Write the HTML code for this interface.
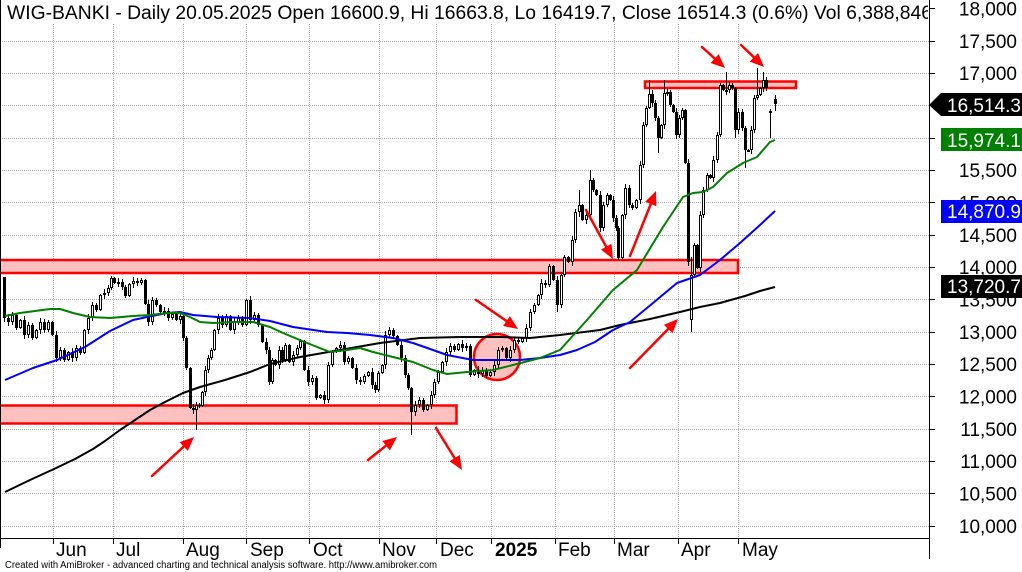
<!DOCTYPE html>
<html><head><meta charset="utf-8"><style>
html,body{margin:0;padding:0;background:#fff;width:1022px;height:572px;overflow:hidden}
svg{display:block}
text{font-family:"Liberation Sans",Arial,sans-serif;fill:#000}
</style></head><body>
<svg id="c" xmlns="http://www.w3.org/2000/svg" width="1022" height="572" viewBox="0 0 1022 572">
<defs><clipPath id="tc"><rect x="0" y="0" width="928" height="30"/></clipPath>
<clipPath id="pc"><rect x="0" y="0" width="929" height="538"/></clipPath></defs>
<rect width="1022" height="572" fill="#fff"/>
<g stroke="#a8a8a8" stroke-width="1" stroke-dasharray="1 1" shape-rendering="crispEdges">
<path d="M0 41.5H929M0 73.5H929M0 105.5H929M0 138.5H929M0 170.5H929M0 202.5H929M0 235.5H929M0 267.5H929M0 299.5H929M0 332.5H929M0 364.5H929M0 396.5H929M0 429.5H929M0 461.5H929M0 493.5H929M0 526.5H929"/>
<path d="M53.5 24V538M113.5 24V538M183.5 24V538M246.5 24V538M309.5 24V538M379.5 24V538M436.5 24V538M491.5 24V538M555.5 24V538M614.5 24V538M678.5 24V538M738.5 24V538"/>
</g>
<g clip-path="url(#pc)" fill="#ffc0c0" stroke="#ff0000" stroke-width="2.5">
<rect x="645" y="81.5" width="151" height="6.5"/>
<rect x="-5" y="260" width="743" height="13"/>
<rect x="-5" y="405.5" width="461.5" height="18"/>
<circle cx="497" cy="357" r="23"/>
</g>
<g id="cd" clip-path="url(#pc)"></g>
<g fill="none" stroke-width="2" stroke-linejoin="round" clip-path="url(#pc)">
<polyline stroke="#000" points="5,492 30,480 54,469 75,459 93,449 105,441 120,430 135,420 150,410 165,402 183,393 200,387 225,380 250,372 270,364 300,357 340,350 380,343 420,338 460,337 500,337 530,338 560,335 600,330 620,325 650,319 680,312 700,307 720,303 745,296 760,291 775,287"/>
<polyline stroke="#0000ff" points="5,380 33,368 57,360 85,347 110,331 133,320 147,317 167,313 180,312 193,315 217,317 250,318 270,321 293,327 327,332 347,333 370,335 393,338 413,343 433,350 447,355 473,360 500,360 520,360 540,358 560,355 577,350 595,342 613,330 630,322 653,303 677,283 700,275 720,260 740,243 760,225 775,211"/>
<polyline stroke="#008000" points="5,316 20,313 50,309 60,309 73,313 90,317 110,318 133,316 150,315 167,313 180,313 190,317 200,322 213,323 233,322 253,322 270,327 283,333 307,343 330,352 347,350 360,348 373,352 393,357 413,362 433,370 447,374 467,372 493,370 513,365 540,358 560,350 587,320 613,290 637,270 663,227 683,197 693,193 703,192 713,187 727,173 743,163 757,157 770,142 775,140"/>
</g>
<g stroke="#ff0000" stroke-width="2.5" fill="none" stroke-linecap="round">
<path d="M152 476L183.7 446.5M368 460L386 445.7M436 428L454.6 458.1M476 300L506.5 321M586 210L606.2 246.7M630 256L650.8 204M630 368L668.2 329M702 47L714.7 58.6M741 45L753.9 57.3"/>
</g>
<g fill="#ff0000">
<polygon points="194,437 187.8,450.9 179.6,442.1"/>
<polygon points="397,437 389.8,450.4 382.3,441"/>
<polygon points="462,470 449.5,461.3 459.7,455"/>
<polygon points="518,329 503.1,326 509.9,316.1"/>
<polygon points="613,259 601,249.6 611.5,243.8"/>
<polygon points="656,191 656.4,206.2 645.2,201.8"/>
<polygon points="678,319 672.5,333.2 663.9,324.8"/>
<polygon points="725,68 710.6,63 718.7,54.1"/>
<polygon points="764,67 749.7,61.6 758,53"/>
</g>
<g stroke="#000" stroke-width="1" shape-rendering="crispEdges">
<path d="M0.5 0V548M0 538.5H929M929.5 0V559"/>
<path d="M929 41.5H935M929 73.5H935M929 105.5H935M929 138.5H935M929 170.5H935M929 202.5H935M929 235.5H935M929 267.5H935M929 299.5H935M929 332.5H935M929 364.5H935M929 396.5H935M929 429.5H935M929 461.5H935M929 493.5H935M929 526.5H935M929 8.5H935"/>
<path d="M53.5 538V544M113.5 538V544M183.5 538V544M246.5 538V544M309.5 538V544M379.5 538V544M436.5 538V544M491.5 538V544M555.5 538V544M614.5 538V544M678.5 538V544M738.5 538V544"/>
</g>
<text x="7" y="19" font-size="19" textLength="925" lengthAdjust="spacingAndGlyphs" clip-path="url(#tc)">WIG-BANKI - Daily 20.05.2025 Open 16600.9, Hi 16663.8, Lo 16419.7, Close 16514.3 (0.6%) Vol 6,388,846</text>
<g font-size="19" text-anchor="end">
<text x="1017" y="15.5">18,000</text>
<text x="1017" y="48">17,500</text>
<text x="1017" y="80">17,000</text>
<text x="1017" y="112.5">16,500</text>
<text x="1017" y="145">16,000</text>
<text x="1017" y="177">15,500</text>
<text x="1017" y="209.5">15,000</text>
<text x="1017" y="242">14,500</text>
<text x="1017" y="274">14,000</text>
<text x="1017" y="306.5">13,500</text>
<text x="1017" y="339">13,000</text>
<text x="1017" y="371">12,500</text>
<text x="1017" y="403.5">12,000</text>
<text x="1017" y="436">11,500</text>
<text x="1017" y="468">11,000</text>
<text x="1017" y="500.5">10,500</text>
<text x="1017" y="533">10,000</text>
</g>
<polygon points="929,105 941,93 1022,93 1022,116 941,116" fill="#000"/>
<rect x="941" y="128" width="81" height="23" fill="#008000"/>
<rect x="941" y="200" width="81" height="23" fill="#0000ff"/>
<rect x="941" y="275" width="81" height="23" fill="#000"/>
<g font-size="19">
<text x="947" y="112" style="fill:#fff">16,514.3</text>
<text x="947" y="147" style="fill:#fff">15,974.1</text>
<text x="947" y="218" style="fill:#fff">14,870.9</text>
<text x="947" y="293" style="fill:#fff">13,720.7</text>
</g>
<g font-size="19">
<text x="56" y="556">Jun</text>
<text x="116" y="556">Jul</text>
<text x="186" y="556">Aug</text>
<text x="250" y="556">Sep</text>
<text x="313" y="556">Oct</text>
<text x="382" y="556">Nov</text>
<text x="440" y="556">Dec</text>
<text x="495" y="556" font-weight="bold">2025</text>
<text x="558" y="556">Feb</text>
<text x="617" y="556">Mar</text>
<text x="681" y="556">Apr</text>
<text x="742" y="556">May</text>
</g>
<text x="5" y="568" font-size="10" textLength="432" lengthAdjust="spacingAndGlyphs">Created with AmiBroker - advanced charting and technical analysis software. http://www.amibroker.com</text>
</svg>
<script>
(function(){
var S='http://www.w3.org/2000/svg',g=document.getElementById('cd');
var D=[4,318,8,322,12,315,16,328,20,320,24,335,28,325,32,338,36,330,40,322,44,330,48,322,52,335,56,358,60,350,64,360,68,352,72,358,76,348,80,353,84,330,88,318,92,305,96,310,100,295,104,293,108,288,111,278,114,283,118,282,122,287,125,296,129,284,133,281,137,283,141,280,145,304,148,322,152,300,156,305,160,312,164,311,168,318,172,314,176,320,180,316,183,338,186,368,190,408,193,410,196,405,199,406,202,392,205,370,208,358,211,350,214,330,218,318,222,325,226,316,230,330,234,322,238,318,242,325,246,300,250,320,254,315,258,325,262,342,266,350,269,382,272,360,275,365,279,350,282,360,285,345,289,362,293,355,297,348,300,341,304,370,308,382,312,378,316,398,320,395,324,400,328,365,332,352,336,348,340,345,344,362,348,358,352,368,356,380,360,382,364,376,368,372,372,385,375,390,378,373,382,365,385,335,389,330,393,336,397,345,401,358,405,375,408,388,411,412,415,405,419,400,423,410,427,405,431,395,434,382,438,372,442,362,446,352,450,346,454,350,458,344,462,348,466,346,470,375,474,370,478,374,482,370,486,376,490,372,494,365,498,350,502,348,506,358,510,350,514,340,518,342,522,338,526,328,530,312,534,305,538,295,541,283,545,285,549,266,553,280,557,305,561,275,564,257,568,262,572,240,575,212,579,205,582,220,586,215,590,180,593,190,596,195,600,228,603,205,607,195,610,200,613,218,616,228,618,258,622,215,625,188,629,205,632,208,636,200,640,165,643,125,646,108,649,94,652,103,655,118,658,138,661,125,664,93,667,92,670,105,673,112,676,135,679,118,682,110,685,163,688,262,691,275,694,245,697,268,700,215,703,190,707,175,710,178,713,160,717,135,720,85,723,90,726,90,729,85,732,88,735,130,738,112,742,128,745,150,748,150,751,130,754,98,757,95,760,88,763,80,766,88,770,111,775,104];
var OV={4:277,691:320,770:113,775:99};
var WK={4:[277,322],196:[0,430],411:[0,435],557:[0,312],579:[190,217],590:[170,0],649:[80,0],658:[0,153],664:[80,0],691:[257,332],726:[72,0],735:[0,138],745:[0,168],757:[68,0],763:[72,0],770:[0,138],775:[95,111]};
function el(t,a){var e=document.createElementNS(S,t);for(var k in a)e.setAttribute(k,a[k]);g.appendChild(e);return e;}
var pc=null;
for(var i=0;i<D.length;i+=2){
var x=D[i],c=D[i+1],n=i/2;
var o=(OV[x]!==undefined)?OV[x]:(pc===null?c-4:pc);
var t=Math.min(o,c),b=Math.max(o,c);if(b-t<1)b=t+1;
var hi=t-(1+(n*7)%4),lo=b+(1+(n*11)%4);
if(WK[x]){if(WK[x][0])hi=WK[x][0];if(WK[x][1])lo=WK[x][1];}
el('line',{x1:x+0.5,x2:x+0.5,y1:hi,y2:lo,stroke:'#000','stroke-width':1,'shape-rendering':'crispEdges'});
if(c>o){el('rect',{x:x-1,y:t,width:3,height:b-t,fill:'#000','shape-rendering':'crispEdges'});}
else{el('rect',{x:x-0.5,y:t+0.5,width:2,height:Math.max(1,b-t-1),fill:'#fff',stroke:'#000','stroke-width':1});}
pc=c;}
})();
</script>
</body></html>
